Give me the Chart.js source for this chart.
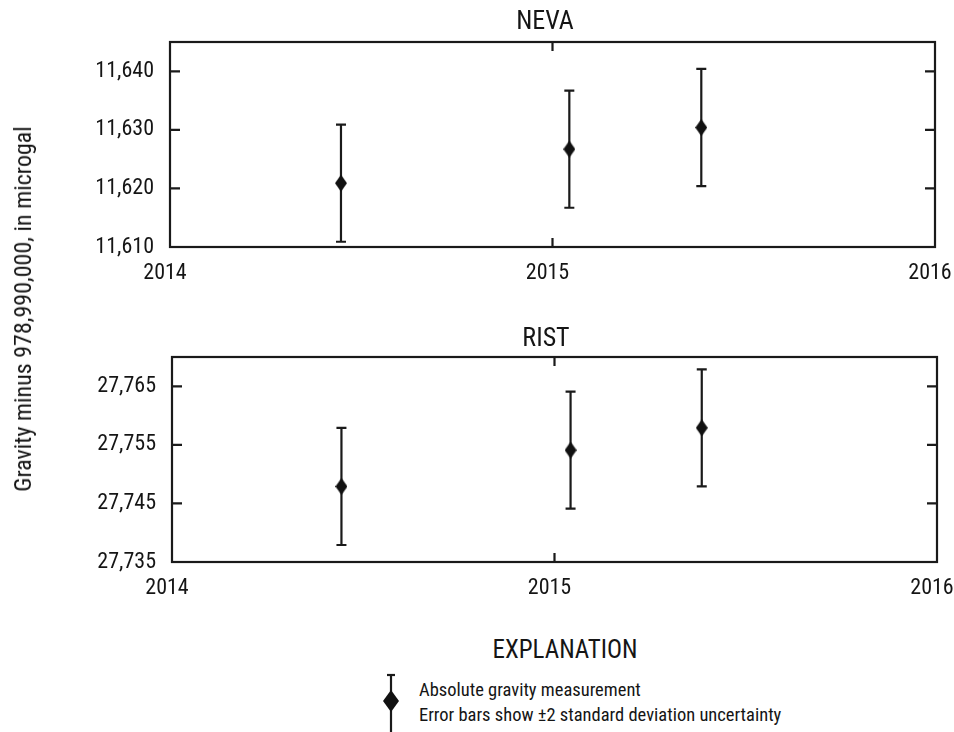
<!DOCTYPE html>
<html>
<head>
<meta charset="utf-8">
<script src="https://cdn.jsdelivr.net/npm/chart.js@4/dist/chart.umd.min.js"></script>
<style>
  body { margin: 0; background: #fff; }
  #page { position: relative; width: 954px; height: 732px; overflow: hidden;
    font-family: 'Roboto Condensed', 'DejaVu Sans Condensed', sans-serif; color: #151515; }
  .abs { position: absolute; white-space: nowrap; line-height: 1; }
  .title { font-size: 26px; transform: translateX(-50%); }
  #ylabel { left: 23px; top: 309px; font-size: 24px; transform: translate(-50%, -50%) rotate(-90deg); }
  #expl { left: 565px; top: 637px; font-size: 25px; transform: translateX(-50%); }
  .leg { left: 419px; font-size: 18.5px; }
</style>
</head>
<body>
<div id="page">
  <canvas id="neva" class="abs" style="left:0;top:0"></canvas>
  <canvas id="rist" class="abs" style="left:0;top:310px"></canvas>
  <div class="abs title" style="left:545px;top:7px">NEVA</div>
  <div class="abs title" style="left:546px;top:324px">RIST</div>
  <div id="ylabel" class="abs">Gravity minus 978,990,000, in microgal</div>
  <div id="expl" class="abs">EXPLANATION</div>
  <svg class="abs" style="left:380px;top:672px" width="22" height="60">
    <line x1="11" y1="3" x2="11" y2="60" stroke="#1a1a1a" stroke-width="2.2"/>
    <line x1="7" y1="3" x2="15" y2="3" stroke="#1a1a1a" stroke-width="2.2"/>
    <path d="M11 18 L19 29 L11 40 L3 29 Z" fill="#111"/>
  </svg>
  <div class="abs leg" style="top:681px">Absolute gravity measurement</div>
  <div class="abs leg" style="top:706px">Error bars show ±2 standard deviation uncertainty</div>
</div>
<script>
const nevaYears = [2014.447, 2015.044, 2015.389];
const nevaValues = [11620.9, 11626.7, 11630.4];
const nevaErrors = [10, 10, 10];
const ristYears = [2014.443, 2015.042, 2015.385];
const ristValues = [27747.9, 27754.1, 27757.9];
const ristErrors = [10, 10, 10];
const xTicks = [2014, 2015, 2016];

const FONT = "'Roboto Condensed', 'DejaVu Sans Condensed', sans-serif";
const INK = '#1a1a1a';

function diamond(w, h) {
  const c = document.createElement('canvas');
  c.width = w; c.height = h;
  const g = c.getContext('2d');
  g.fillStyle = '#111';
  g.beginPath();
  g.moveTo(w / 2, 0); g.lineTo(w, h / 2); g.lineTo(w / 2, h); g.lineTo(0, h / 2);
  g.closePath(); g.fill();
  return c;
}
const marker = diamond(12, 17);

// box, inward ticks, error bars
const frame = {
  id: 'frame',
  beforeDatasetsDraw(chart) {
    const { ctx, scales: { x, y } } = chart;
    const errs = chart.options.plugins.frame.errors;
    ctx.save();
    ctx.strokeStyle = INK; ctx.lineWidth = 2.2;
    chart.data.datasets[0].data.forEach((p, i) => {
      const px = x.getPixelForValue(p.x);
      const top = y.getPixelForValue(p.y + errs[i]);
      const bot = y.getPixelForValue(p.y - errs[i]);
      ctx.beginPath();
      ctx.moveTo(px, top); ctx.lineTo(px, bot);
      ctx.moveTo(px - 5, top); ctx.lineTo(px + 5, top);
      ctx.moveTo(px - 5, bot); ctx.lineTo(px + 5, bot);
      ctx.stroke();
    });
    ctx.restore();
  },
  afterDraw(chart) {
    const { ctx, chartArea: a, scales: { x, y } } = chart;
    ctx.save();
    ctx.strokeStyle = INK; ctx.lineWidth = 2.2;
    ctx.strokeRect(a.left, a.top, a.right - a.left, a.bottom - a.top);
    ctx.beginPath();
    y.ticks.forEach(t => {
      const py = y.getPixelForValue(t.value);
      if (py <= a.top + 1 || py >= a.bottom - 1) return;
      ctx.moveTo(a.left, py); ctx.lineTo(a.left + 10, py);
      ctx.moveTo(a.right, py); ctx.lineTo(a.right - 10, py);
    });
    x.ticks.forEach(t => {
      const px = x.getPixelForValue(t.value);
      if (px <= a.left + 1 || px >= a.right - 1) return;
      ctx.moveTo(px, a.top); ctx.lineTo(px, a.top + 9);
      ctx.moveTo(px, a.bottom); ctx.lineTo(px, a.bottom - 9);
    });
    ctx.stroke();
    ctx.restore();
  }
};

function makeChart(id, xs, vals, errs, yMin, yMax, pad) {
  const cv = document.getElementById(id);
  cv.width = 954; cv.height = 300;
  return new Chart(cv, {
    type: 'scatter',
    data: {
      datasets: [{
        data: xs.map((v, i) => ({ x: v, y: vals[i] })),
        pointStyle: marker,
        pointRadius: 8,
        pointHoverRadius: 8
      }]
    },
    options: {
      responsive: false,
      animation: false,
      events: [],
      layout: { padding: pad },
      plugins: { legend: { display: false }, tooltip: { enabled: false }, frame: { errors: errs } },
      scales: {
        x: {
          type: 'linear', min: 2014, max: 2016,
          afterBuildTicks: s => { s.ticks = xTicks.map(v => ({ value: v })); },
          afterFit: s => { s.height = 40; s.paddingLeft = 0; s.paddingRight = 0; },
          grid: { display: false },
          border: { display: false },
          ticks: { color: '#151515', padding: 5, labelOffset: -5, font: { family: FONT, size: 22 }, callback: v => String(v), maxRotation: 0 }
        },
        y: {
          min: yMin, max: yMax,
          afterFit: s => { s.width = 110; s.paddingTop = 0; s.paddingBottom = 0; },
          grid: { display: false },
          border: { display: false },
          ticks: {
            stepSize: 5, color: '#151515', padding: 8, font: { family: FONT, size: 22 },
            callback: v => ((v - yMin) % 10 === 0 && v < yMax ? v.toLocaleString('en-US') : '')
          }
        }
      }
    },
    plugins: [frame]
  });
}

makeChart('neva', nevaYears, nevaValues, nevaErrors, 11610, 11645, { top: 42, right: 19, left: 60, bottom: 13 });
makeChart('rist', ristYears, ristValues, ristErrors, 27735, 27770, { top: 47, right: 17, left: 62, bottom: 8 });
</script>
</body>
</html>
